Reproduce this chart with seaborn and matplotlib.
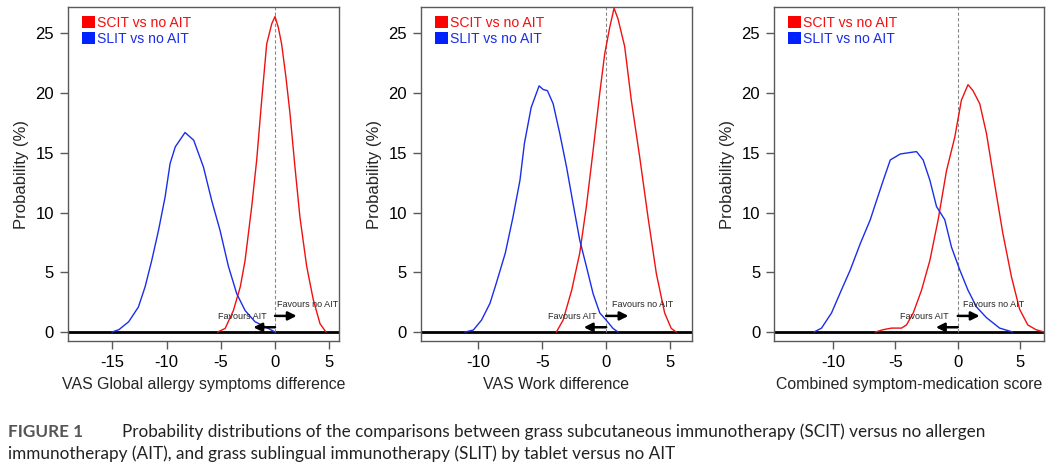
import numpy as np
import matplotlib
matplotlib.use("Agg")
import matplotlib.pyplot as plt
import seaborn as sns
from matplotlib.patches import Patch

# Curves (x = difference, y = probability %)
vas_global_scit_x = [-5.3, -4.6, -3.84, -3.2, -2.76, -2.15, -1.69, -1.23, -0.77, -0.3, 0.0, 0.3, 0.61, 1.01, 1.38, 1.84, 2.3, 2.92, 3.53, 4.15, 4.7]
vas_global_scit_y = [0.0, 0.3, 1.8, 3.8, 6.0, 10.5, 14.4, 19.4, 24.1, 25.8, 26.4, 25.5, 24.1, 21.3, 18.3, 13.8, 9.6, 5.5, 2.7, 0.7, 0.0]
vas_global_slit_x = [-15.05, -14.4, -13.5, -12.6, -11.98, -11.37, -10.75, -10.14, -9.68, -9.2, -8.3, -7.5, -6.6, -5.84, -5.07, -4.3, -3.53, -2.76, -1.84, -0.92, 0.0]
vas_global_slit_y = [0.0, 0.2, 0.86, 2.1, 3.8, 6.0, 8.5, 11.3, 14.1, 15.5, 16.7, 16.05, 13.8, 11.0, 8.5, 5.5, 3.2, 1.8, 0.86, 0.45, 0.0]

vas_work_scit_x = [-3.9, -3.37, -2.7, -2.07, -1.55, -1.02, -0.5, -0.11, 0.28, 0.62, 0.93, 1.45, 1.97, 2.62, 3.28, 3.93, 4.58, 5.1, 5.5]
vas_work_scit_y = [0.0, 1.0, 3.5, 6.6, 10.5, 15.2, 20.0, 23.3, 25.5, 27.1, 26.2, 23.9, 19.4, 14.7, 9.6, 4.9, 1.6, 0.3, 0.0]
vas_work_slit_x = [-11.06, -10.4, -9.76, -9.1, -8.6, -7.9, -7.3, -6.75, -6.4, -5.87, -5.25, -4.94, -4.6, -4.15, -3.63, -3.1, -2.6, -2.07, -1.55, -1.02, -0.5, 0.0, 0.54, 0.93]
vas_work_slit_y = [0.0, 0.17, 1.0, 2.4, 4.1, 6.6, 9.6, 12.7, 15.8, 18.8, 20.6, 20.3, 20.2, 19.1, 16.6, 13.8, 10.8, 7.7, 5.5, 3.2, 1.6, 1.0, 0.3, 0.0]

csms_scit_x = [-6.6, -5.96, -5.3, -4.5, -4.1, -3.56, -2.9, -2.23, -1.57, -0.9, -0.24, 0.29, 0.82, 1.22, 1.76, 2.3, 2.95, 3.6, 4.3, 4.95, 5.6, 6.25, 6.9]
csms_scit_y = [0.0, 0.2, 0.33, 0.33, 0.6, 1.6, 3.5, 6.0, 9.4, 13.5, 16.3, 19.4, 20.7, 20.2, 19.1, 16.6, 12.4, 8.3, 4.6, 1.9, 0.6, 0.2, 0.0]
csms_slit_x = [-11.5, -10.9, -10.1, -9.4, -8.6, -7.8, -7.0, -6.5, -5.96, -5.4, -4.6, -3.96, -3.3, -2.77, -2.23, -1.7, -1.04, -0.5, 0.16, 0.82, 1.5, 2.3, 3.35, 4.4]
csms_slit_y = [0.0, 0.33, 1.6, 3.3, 5.2, 7.4, 9.4, 11.0, 12.7, 14.4, 14.9, 15.0, 15.1, 14.4, 12.7, 10.5, 9.4, 7.1, 5.2, 3.5, 2.1, 1.2, 0.33, 0.0]

panel_xlabels = ["VAS Global allergy symptoms difference", "VAS Work difference",
                 "Combined symptom-medication score"]
series_labels = ["SCIT vs no AIT", "SLIT vs no AIT"]
y_ticks = [0, 5, 10, 15, 20, 25]
x_ticks = [[-15, -10, -5, 0, 5], [-10, -5, 0, 5], [-10, -5, 0, 5]]

panels = [
    (vas_global_scit_x, vas_global_scit_y, vas_global_slit_x, vas_global_slit_y),
    (vas_work_scit_x, vas_work_scit_y, vas_work_slit_x, vas_work_slit_y),
    (csms_scit_x, csms_scit_y, csms_slit_x, csms_slit_y),
]

sns.set_style("ticks")
plt.rcParams['font.family'] = ['Liberation Sans', 'DejaVu Sans']
plt.rcParams['axes.unicode_minus'] = False

red = "#f01010"
blue = "#1a2ee8"
frame = "#5a5a5a"

fig = plt.figure(figsize=(10.57, 4.67), dpi=100)

boxes = [(0.0643, 0.2564), (0.3983, 0.2561), (0.7323, 0.2554)]
xlims = [(-19.1, 5.9), (-14.5, 6.7), (-14.7, 6.9)]
arrow_len = [2.0, 1.75, 1.75]
nofav_x = [0.15, 0.45, 0.45]

for i, (sx, sy, lx, ly) in enumerate(panels):
    left, width = boxes[i]
    ax = fig.add_axes([left, 0.2698, width, 0.7152])

    ax.axhline(0, color="black", lw=2, zorder=1)
    ax.axvline(0, ymin=0.75 / 27.95, ymax=1, color="#888888", lw=0.8,
               ls=(0, (3, 2)), zorder=1)

    sns.lineplot(x=sx, y=sy, ax=ax, color=red, lw=1.0, sort=False, estimator=None, zorder=3)
    sns.lineplot(x=lx, y=ly, ax=ax, color=blue, lw=1.0, sort=False, estimator=None, zorder=3)

    ax.set_xlim(*xlims[i])
    ax.set_ylim(-0.75, 27.2)
    ax.set_xticks(x_ticks[i])
    ax.set_yticks(y_ticks)
    ax.tick_params(axis="both", colors=frame, labelcolor="black", labelsize=12,
                   length=6, width=1, direction="out", pad=4)
    for sp in ax.spines.values():
        sp.set_visible(True)
        sp.set_color(frame)
        sp.set_linewidth(1.0)

    ax.set_xlabel(panel_xlabels[i], fontsize=11.4, labelpad=5)
    ax.set_ylabel("Probability (%)", fontsize=12, labelpad=5)

    # favours arrows
    arr = dict(arrowstyle="-|>,head_length=0.5,head_width=0.25", color="black", lw=1.8,
               shrinkA=0, shrinkB=0)
    ax.annotate("", xy=(arrow_len[i], 1.35), xytext=(0, 1.35), arrowprops=arr)
    ax.annotate("", xy=(-arrow_len[i], 0.4), xytext=(0, 0.4), arrowprops=arr)
    ax.text(nofav_x[i], 2.3, "Favours no AIT", fontsize=6.5, ha="left", va="center")
    ax.text(-0.75, 1.3, "Favours AIT", fontsize=6.5, ha="right", va="center")

    handles = [Patch(facecolor="#ff0000", edgecolor="none"),
               Patch(facecolor="#0022ff", edgecolor="none")]
    ax.legend(handles, series_labels, loc="upper left", bbox_to_anchor=(0.036, 0.985),
              frameon=False, fontsize=10.1, handlelength=0.9, handleheight=0.95,
              handletextpad=0.15, labelspacing=0.1, borderaxespad=0, borderpad=0.3,
              labelcolor=[red, blue])

fig.text(0.0076, 1 - 437 / 467, "FIGURE 1", fontsize=12.3, fontweight="bold",
         color="#555555", family=["Lato", "DejaVu Sans"], va="baseline")
fig.text(0.115, 1 - 437 / 467,
         "Probability distributions of the comparisons between grass subcutaneous immunotherapy (SCIT) versus no allergen",
         fontsize=12.3, color="#222222", family=["Lato", "DejaVu Sans"], va="baseline")
fig.text(0.0076, 1 - 459 / 467,
         "immunotherapy (AIT), and grass sublingual immunotherapy (SLIT) by tablet versus no AIT",
         fontsize=12.3, color="#222222", family=["Lato", "DejaVu Sans"], va="baseline")

fig.savefig("out.png", dpi=100)
